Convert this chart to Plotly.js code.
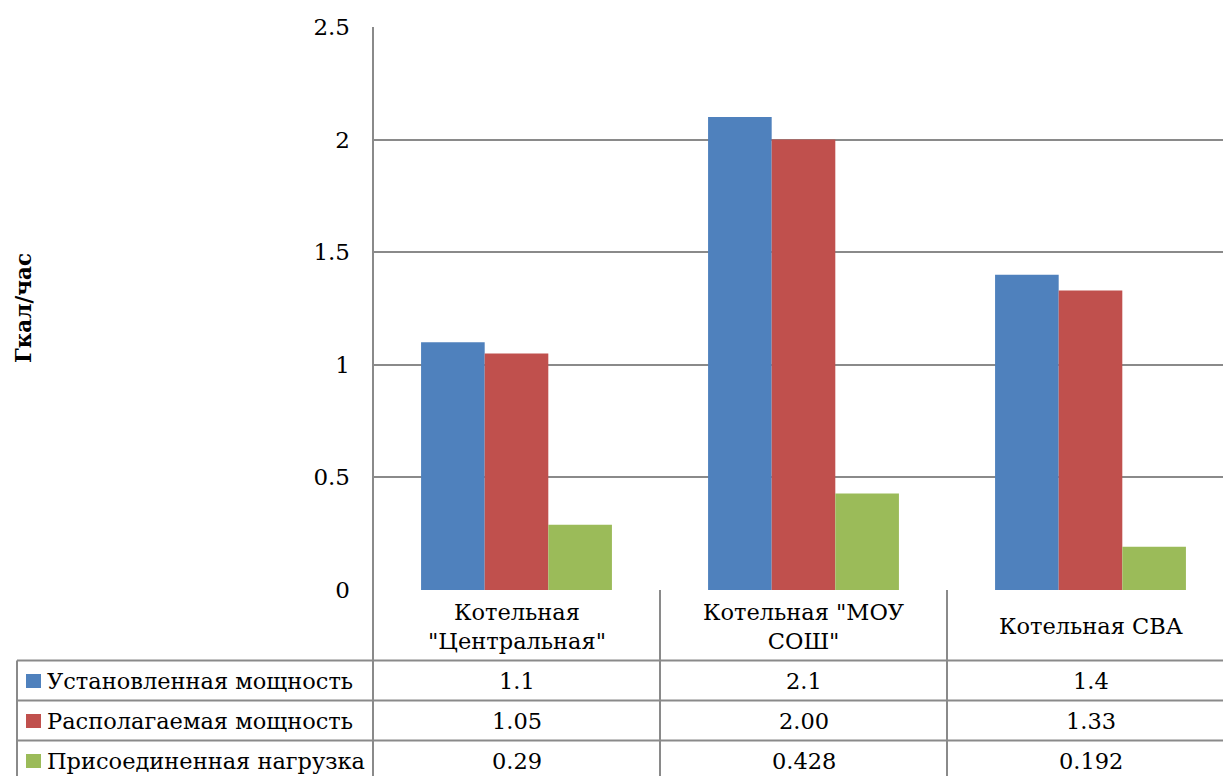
<!DOCTYPE html>
<html>
<head>
<meta charset="utf-8">
<script src="https://cdn.plot.ly/plotly-3.0.1.min.js"></script>
<style>html,body{margin:0;padding:0;background:#fff;}#chart{width:1223px;height:776px;}</style>
</head>
<body>
<div id="chart"></div>
<script>
// ---- data ----
const categories = ['Котельная "Центральная"', 'Котельная "МОУ СОШ"', 'Котельная СВА'];
const categoryLabels = ['Котельная<br>"Центральная"', 'Котельная "МОУ<br>СОШ"', 'Котельная СВА'];
const seriesNames = ['Установленная мощность', 'Располагаемая мощность', 'Присоединенная нагрузка'];
const installed = [1.1, 2.1, 1.4];
const available = [1.05, 2.00, 1.33];
const connected = [0.29, 0.428, 0.192];
const installedText = ['1.1', '2.1', '1.4'];
const availableText = ['1.05', '2.00', '1.33'];
const connectedText = ['0.29', '0.428', '0.192'];
const yTickVals = [0, 0.5, 1, 1.5, 2, 2.5];
const yTickText = ['0', '0.5', '1', '1.5', '2', '2.5'];
const yTitle = 'Гкал/час';

// ---- styling / layout ----
const colors = ['#4F81BD', '#C0504D', '#9BBB59'];
const FONT = 'DejaVu Serif, Liberation Serif, serif';
const W = 1223, H = 776;
const L = 373, T = 27, B0 = 590;           // plot area pixel edges
const PW = W - L, PH = B0 - T;
const px = p => (p - L) / PW;              // pixel x -> paper x
const py = p => (B0 - p) / PH;             // pixel y -> paper y
const lineColor = '#8a8a8a';
const LW = 2;

const allValues = [installed, available, connected];
const allText = [installedText, availableText, connectedText];

const traces = allValues.map((vals, i) => ({
  type: 'bar',
  x: categories,
  y: vals,
  name: seriesNames[i],
  marker: {color: colors[i], line: {width: 0}},
  hoverinfo: 'x+y+name',
  showlegend: false
}));

const shapes = [];
const annotations = [];
const line = (xref, x0, x1, y0, y1) => shapes.push({
  type: 'line', xref: xref, yref: 'paper', x0: x0, x1: x1, y0: y0, y1: y1,
  line: {color: lineColor, width: LW}, layer: 'above'
});

// left vertical axis line down through the table
line('paper', 0, 0, 1, py(H + 2));
// table horizontal lines
const rowLines = [660.5, 700.5, 740.5];
rowLines.forEach(r => line('paper', px(17), 1.02, py(r), py(r)));
// table left border
line('paper', px(17), px(17), py(660.5), py(H + 2));
// column separators between categories
for (let k = 0; k < categories.length - 1; k++) {
  line('x', k + 0.5, k + 0.5, 0, py(H + 2));
}

// category labels row
categories.forEach((c, k) => annotations.push({
  xref: 'x', yref: 'paper', x: c, y: py(626), text: categoryLabels[k],
  showarrow: false, xanchor: 'center', yanchor: 'middle',
  font: {family: FONT, size: 22.5, color: '#000'}
}));

// data rows
const rowCenters = [681, 721, 761];
seriesNames.forEach((name, i) => {
  // legend key
  shapes.push({
    type: 'rect', xref: 'paper', yref: 'paper',
    x0: px(26), x1: px(41), y0: py(rowCenters[i] - 7), y1: py(rowCenters[i] + 7),
    fillcolor: colors[i], line: {width: 0}
  });
  annotations.push({
    xref: 'paper', yref: 'paper', x: px(45), y: py(rowCenters[i]), text: name,
    showarrow: false, xanchor: 'left', yanchor: 'middle',
    font: {family: FONT, size: 22.5, color: '#000'}
  });
  categories.forEach((c, k) => annotations.push({
    xref: 'x', yref: 'paper', x: c, y: py(rowCenters[i]), text: allText[i][k],
    showarrow: false, xanchor: 'center', yanchor: 'middle',
    font: {family: FONT, size: 22.5, color: '#000'}
  }));
});

// y axis title
annotations.push({
  xref: 'paper', yref: 'paper', x: px(23), y: py(308), text: '<b>' + yTitle + '</b>',
  textangle: -90, showarrow: false, xanchor: 'center', yanchor: 'middle',
  font: {family: FONT, size: 21.5, color: '#000'}
});

const layout = {
  width: W, height: H,
  margin: {l: L, r: 0, t: T, b: H - B0, pad: 0},
  paper_bgcolor: '#fff', plot_bgcolor: '#fff',
  barmode: 'group', bargap: 0.335, bargroupgap: 0,
  xaxis: {
    type: 'category', range: [-0.5, -0.5 + PW / 287], showticklabels: false,
    showgrid: false, zeroline: false, showline: false, ticks: '', fixedrange: true
  },
  yaxis: {
    range: [0, 2.5], tickvals: yTickVals, ticktext: yTickText,
    showgrid: true, gridcolor: lineColor, gridwidth: LW,
    zeroline: false, showline: false, ticks: '', ticklabelstandoff: 22,
    tickfont: {family: FONT, size: 23, color: '#000'}
  },
  shapes: shapes,
  annotations: annotations
};

Plotly.newPlot('chart', traces, layout, {displayModeBar: false, staticPlot: true});
</script>
</body>
</html>
